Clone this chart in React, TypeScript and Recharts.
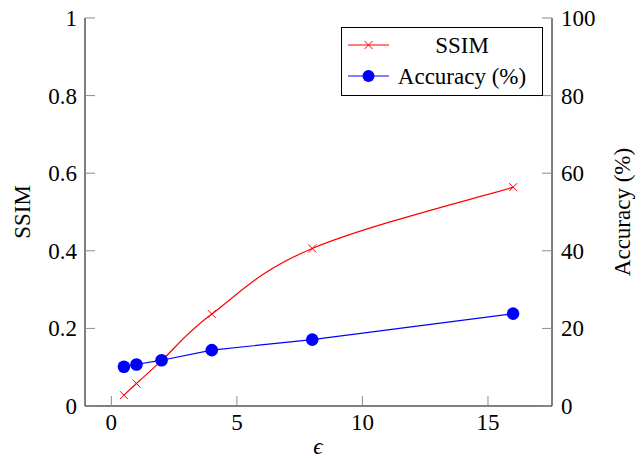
import React from "react";
import { ComposedChart, Line, XAxis, YAxis, Legend, Label } from "recharts";

const epsilons = [0.5, 1, 2, 4, 8, 16];
const ssim = [0.028, 0.058, 0.117, 0.237, 0.406, 0.564];
const accuracy = [10.1, 10.7, 11.8, 14.4, 17.1, 23.8];
const xTicks = [0, 5, 10, 15];
const ssimTicks = [0, 0.2, 0.4, 0.6, 0.8, 1];
const accTicks = [0, 20, 40, 60, 80, 100];

const data = epsilons.map((eps, i) => ({ eps, ssim: ssim[i], acc: accuracy[i] }));

const FONT = "'Liberation Serif', 'Times New Roman', serif";
const TXT = { fontFamily: FONT, fontSize: 23 };
const TICK_GRAY = "#8c8c8c";
const RED = "#ff0000";
const BLUE = "#0000ff";

// smooth curve roughly like tikz "smooth" (cardinal spline, ends use the point itself)
const pgfSmooth = (context: any) => {
  let pts: number[][] = [];
  const f = 0.18;
  return {
    areaStart() {},
    areaEnd() {},
    lineStart() {
      pts = [];
    },
    point(x: number, y: number) {
      pts.push([+x, +y]);
    },
    lineEnd() {
      const n = pts.length;
      if (!n) return;
      context.moveTo(pts[0][0], pts[0][1]);
      for (let i = 0; i < n - 1; i++) {
        const p0 = pts[Math.max(i - 1, 0)];
        const p1 = pts[i];
        const p2 = pts[i + 1];
        const p3 = pts[Math.min(i + 2, n - 1)];
        context.bezierCurveTo(
          p1[0] + f * (p2[0] - p0[0]),
          p1[1] + f * (p2[1] - p0[1]),
          p2[0] - f * (p3[0] - p1[0]),
          p2[1] - f * (p3[1] - p1[1]),
          p2[0],
          p2[1]
        );
      }
    },
  };
};

// x-shaped marker used by the SSIM series
const Cross = ({ cx, cy, color = RED }: any) => {
  if (cx == null || cy == null) return null;
  const s = 4;
  return (
    <g>
      <line x1={cx - s} y1={cy - s} x2={cx + s} y2={cy + s} stroke={color} strokeWidth={1} />
      <line x1={cx - s} y1={cy + s} x2={cx + s} y2={cy - s} stroke={color} strokeWidth={1} />
    </g>
  );
};

const BottomTick = ({ x, y, payload }: any) => (
  <g>
    <line x1={x} y1={y} x2={x} y2={y - 10} stroke={TICK_GRAY} />
    <text x={x} y={y + 24} textAnchor="middle" style={TXT} fill="#000">
      {payload.value}
    </text>
  </g>
);

const TopTick = ({ x, y }: any) => <line x1={x} y1={y} x2={x} y2={y + 10} stroke={TICK_GRAY} />;

const LeftTick = ({ x, y, payload }: any) => (
  <g>
    <line x1={x} y1={y} x2={x + 10} y2={y} stroke={TICK_GRAY} />
    <text x={x - 8} y={y + 8} textAnchor="end" style={TXT} fill="#000">
      {payload.value}
    </text>
  </g>
);

const RightTick = ({ x, y, payload }: any) => (
  <g>
    <line x1={x} y1={y} x2={x - 10} y2={y} stroke={TICK_GRAY} />
    <text x={x + 9} y={y + 8} textAnchor="start" style={TXT} fill="#000">
      {payload.value}
    </text>
  </g>
);

const LegendBox = () => {
  const rows = [
    { name: "SSIM", color: RED, marker: "cross" },
    { name: "Accuracy (%)", color: BLUE, marker: "dot" },
  ];
  return (
    <svg width={202} height={69} style={{ display: "block" }}>
      <rect x={0.5} y={0.5} width={201} height={68} fill="#fff" stroke="#000" />
      {rows.map((r, i) => {
        const cy = 18 + i * 31;
        return (
          <g key={r.name}>
            <line x1={7} y1={cy} x2={48} y2={cy} stroke={r.color} strokeWidth={1.2} />
            {r.marker === "cross" ? (
              <Cross cx={27.5} cy={cy} color={r.color} />
            ) : (
              <circle cx={27.5} cy={cy} r={6} fill={r.color} />
            )}
            <text x={121} y={cy + 8} textAnchor="middle" style={TXT} fill="#000">
              {r.name}
            </text>
          </g>
        );
      })}
    </svg>
  );
};

export default function App() {
  return (
    <div style={{ position: "absolute", left: 0, top: 0, background: "#fff" }}>
      <ComposedChart width={642} height={458} data={data} margin={{ top: 18, right: 0, bottom: 0, left: 0 }}>
        <XAxis
          xAxisId="bottom"
          dataKey="eps"
          type="number"
          domain={[-1.05, 17.55]}
          ticks={xTicks}
          height={52}
          tickSize={0}
          tickMargin={0}
          tick={<BottomTick />}
          axisLine={{ stroke: "#000" }}
          allowDataOverflow
        >
          <Label
            content={() => (
              <text x={318} y={454} textAnchor="middle" style={{ ...TXT, fontStyle: "italic" }} fill="#000">
                ϵ
              </text>
            )}
          />
        </XAxis>
        <XAxis
          xAxisId="top"
          orientation="top"
          dataKey="eps"
          type="number"
          domain={[-1.05, 17.55]}
          ticks={xTicks}
          height={0}
          tickSize={0}
          tickMargin={0}
          tick={<TopTick />}
          axisLine={{ stroke: "#000" }}
          allowDataOverflow
        />
        <YAxis
          yAxisId="left"
          domain={[0, 1]}
          ticks={ssimTicks}
          width={85}
          tickSize={0}
          tickMargin={0}
          tick={<LeftTick />}
          axisLine={{ stroke: "#000" }}
        >
          <Label
            content={() => (
              <text x={30} y={212} transform="rotate(-90 30 212)" textAnchor="middle" style={TXT} fill="#000">
                SSIM
              </text>
            )}
          />
        </YAxis>
        <YAxis
          yAxisId="right"
          orientation="right"
          domain={[0, 100]}
          ticks={accTicks}
          width={90}
          tickSize={0}
          tickMargin={0}
          tick={<RightTick />}
          axisLine={{ stroke: "#000" }}
        >
          <Label
            content={() => (
              <text x={630} y={212} transform="rotate(-90 630 212)" textAnchor="middle" style={TXT} fill="#000">
                Accuracy (%)
              </text>
            )}
          />
        </YAxis>
        <Line
          xAxisId="bottom"
          yAxisId="left"
          dataKey="ssim"
          type={pgfSmooth as any}
          stroke={RED}
          strokeWidth={1.2}
          dot={<Cross />}
          activeDot={false}
          isAnimationActive={false}
        />
        <Line
          xAxisId="bottom"
          yAxisId="right"
          dataKey="acc"
          type="linear"
          stroke={BLUE}
          strokeWidth={1.2}
          dot={{ r: 6.3, fill: BLUE, stroke: BLUE, strokeWidth: 0 }}
          activeDot={false}
          isAnimationActive={false}
        />
        <Legend
          layout="vertical"
          align="center"
          verticalAlign="middle"
          content={() => <LegendBox />}
          wrapperStyle={{ position: "absolute", left: 341, top: 27, width: 202, height: 69 }}
        />
      </ComposedChart>
    </div>
  );
}
